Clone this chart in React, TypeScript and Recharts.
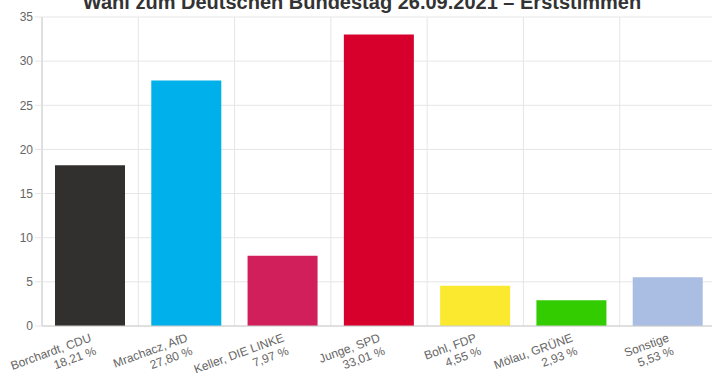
import React from 'react';
import { BarChart, Bar, XAxis, YAxis, CartesianGrid, Cell } from 'recharts';

const candidates = [
  'Borchardt, CDU',
  'Mrachacz, AfD',
  'Keller, DIE LINKE',
  'Junge, SPD',
  'Bohl, FDP',
  'Mölau, GRÜNE',
  'Sonstige',
];
const shares = [18.21, 27.8, 7.97, 33.01, 4.55, 2.93, 5.53];
const partyColors = ['#32302e', '#00b0ea', '#d11f5c', '#d7002c', '#fbe930', '#33cc00', '#aabde3'];
const yTicks = [0, 5, 10, 15, 20, 25, 30, 35];
const boundaryTicks = [0, 1, 2, 3, 4, 5, 6, 7];

const data = candidates.map((name, i) => ({
  name,
  label: shares[i].toFixed(2).replace('.', ',') + ' %',
  value: shares[i],
}));

const FONT = '"Liberation Sans", Arial, sans-serif';

const CandidateTick = (props: any) => {
  const { x, payload } = props;
  const row = data[payload.index] ?? data.find((d) => d.name === payload.value);
  return (
    <g transform={`translate(${x + 2},341) rotate(-20)`}>
      <text textAnchor="end" fill="#666" fontSize={12} fontFamily={FONT}>
        <tspan x={0} dy={0}>{payload.value}</tspan>
        <tspan x={0} dy={14}>{row ? row.label : ''}</tspan>
      </text>
    </g>
  );
};

export default function App() {
  return (
    <div style={{ position: 'absolute', left: 0, top: 0, width: 712, height: 376, overflow: 'hidden', background: '#fff' }}>
      <svg width={712} height={20} style={{ position: 'absolute', left: 0, top: 0 }}>
        <text x={362} y={9} textAnchor="middle" fill="#333" fontSize={20} fontWeight="bold" fontFamily={FONT}>
          Wahl zum Deutschen Bundestag 26.09.2021 – Erststimmen
        </text>
      </svg>
      <BarChart
        width={716}
        height={376}
        data={data}
        margin={{ top: 17, right: 0, left: 0, bottom: 0 }}
        barCategoryGap="13.5%"
      >
        <CartesianGrid xAxisId="grid" stroke="#e6e6e6" />
        <XAxis
          xAxisId="grid"
          type="number"
          dataKey={() => 0}
          domain={[0, 7]}
          ticks={boundaryTicks}
          height={0}
          axisLine={false}
          tickLine={{ stroke: '#e6e6e6' }}
          tickSize={10}
          tickFormatter={() => ''}
          allowDataOverflow
        />
        <XAxis
          dataKey="name"
          height={50}
          interval={0}
          axisLine={{ stroke: '#ccc' }}
          tickLine={false}
          tick={<CandidateTick />}
        />
        <YAxis
          width={42}
          domain={[0, 35]}
          ticks={yTicks}
          axisLine={{ stroke: '#ccc' }}
          tickLine={{ stroke: '#e6e6e6' }}
          tickSize={7}
          tick={{ fill: '#666', fontSize: 12, fontFamily: FONT }}
        />
        <Bar dataKey="value" isAnimationActive={false}>
          {data.map((d, i) => (
            <Cell key={d.name} fill={partyColors[i]} />
          ))}
        </Bar>
      </BarChart>
    </div>
  );
}
